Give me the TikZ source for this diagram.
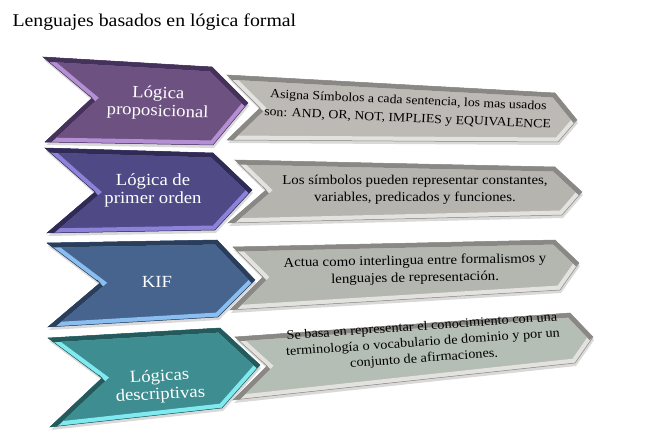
\documentclass[tikz,border=0pt]{standalone}
\usepackage{fontspec}
\setmainfont[FakeStretch=1.1]{Liberation Serif}
\usetikzlibrary{shadows}

\definecolor{purpA}{HTML}{6D5180}
\definecolor{purpL}{HTML}{B48FD4}
\definecolor{purpD}{HTML}{45325A}
\definecolor{indiA}{HTML}{4F4A86}
\definecolor{indiL}{HTML}{8C82DA}
\definecolor{indiD}{HTML}{2F2B55}
\definecolor{blueA}{HTML}{46648E}
\definecolor{blueL}{HTML}{8ABDF0}
\definecolor{blueD}{HTML}{2A3E5C}
\definecolor{tealA}{HTML}{3E8D91}
\definecolor{tealL}{HTML}{7FEAF0}
\definecolor{tealD}{HTML}{255A5D}
\definecolor{grayA}{HTML}{BDB9B5}
\definecolor{grayB}{HTML}{B6B4AF}
\definecolor{grayC}{HTML}{B3B7B0}
\definecolor{grayD}{HTML}{B5BEB5}
\definecolor{grayL}{HTML}{E4E2DE}
\definecolor{grayK}{HTML}{8A8884}

% one chevron from the six corners #1a..#1f
\newcommand{\chev}[4]{%
  \fill[#2, drop shadow={opacity=.3,shadow xshift=1pt,shadow yshift=-3pt}]
    (#1a) -- (#1b) -- (#1c) -- (#1d) -- (#1e) -- (#1f) -- cycle;
  \begin{scope}
    \clip (#1a) -- (#1b) -- (#1c) -- (#1d) -- (#1e) -- (#1f) -- cycle;
    \draw[#3, bevel] (#1a) -- (#1b) -- (#1c) -- (#1d) -- (#1e) -- (#1f) -- cycle;
    \draw[#4, bevel] (#1a) -- (#1b) -- (#1c);
    \draw[#4, bevel] (#1e) -- (#1f);
  \end{scope}
  \draw[#4, line width=.5pt, line join=miter]
    (#1a) -- (#1b) -- (#1c) -- (#1d) -- (#1e) -- (#1f) -- cycle;
}

\tikzset{
  bevel/.style={line width=9pt, line join=miter},
  title/.style={anchor=base west, font=\fontsize{18}{20}\selectfont},
  lefttext/.style={text=white, align=center, font=\fontsize{17}{18}\selectfont},
  righttext/.style={text=black, align=center, font=\fontsize{13.5}{17}\selectfont},
}

\begin{document}
\begin{tikzpicture}[x=1pt,y=-1pt]
\useasboundingbox (0,0) rectangle (662,435);

\node[title] (t0) at (9,27) {Lenguajes basados en lógica formal};

% corners of the grey chevrons
\coordinate (g1a) at (227,75);  \coordinate (g1b) at (555,93);  \coordinate (g1c) at (577,120);
\coordinate (g1d) at (558,142); \coordinate (g1e) at (227,140); \coordinate (g1f) at (260,108);
\coordinate (g2a) at (235,160); \coordinate (g2b) at (555,167); \coordinate (g2c) at (582,192);
\coordinate (g2d) at (562,215); \coordinate (g2e) at (228,223); \coordinate (g2f) at (266,190);
\coordinate (g3a) at (233,247); \coordinate (g3b) at (555,240); \coordinate (g3c) at (579,263);
\coordinate (g3d) at (560,290); \coordinate (g3e) at (230,310); \coordinate (g3f) at (263,277);
\coordinate (g4a) at (235,337); \coordinate (g4b) at (570,313); \coordinate (g4c) at (593,337);
\coordinate (g4d) at (575,363); \coordinate (g4e) at (233,400); \coordinate (g4f) at (267,366);

% corners of the coloured chevrons
\coordinate (c1a) at (43,57);   \coordinate (c1b) at (212,67);  \coordinate (c1c) at (248,103);
\coordinate (c1d) at (213,145); \coordinate (c1e) at (45,142);  \coordinate (c1f) at (92,98);
\coordinate (c2a) at (45,148);  \coordinate (c2b) at (213,153); \coordinate (c2c) at (252,190);
\coordinate (c2d) at (215,230); \coordinate (c2e) at (47,233);  \coordinate (c2f) at (95,192);
\coordinate (c3a) at (47,243);  \coordinate (c3b) at (217,240); \coordinate (c3c) at (255,280);
\coordinate (c3d) at (218,317); \coordinate (c3e) at (48,327);  \coordinate (c3f) at (100,283);
\coordinate (c4a) at (48,338);  \coordinate (c4b) at (220,328); \coordinate (c4c) at (260,365);
\coordinate (c4d) at (222,408); \coordinate (c4e) at (50,427);  \coordinate (c4f) at (102,378);

\chev{g1}{grayA}{grayL}{grayK}
\chev{g2}{grayB}{grayL}{grayK}
\chev{g3}{grayC}{grayL}{grayK}
\chev{g4}{grayD}{grayL}{grayK}
\chev{c1}{purpA}{purpL}{purpD}
\chev{c2}{indiA}{indiL}{indiD}
\chev{c3}{blueA}{blueL}{blueD}
\chev{c4}{tealA}{tealL}{tealD}

\node[lefttext, rotate=-2] (l1) at (158,103) {Lógica\\proposicional};
\node[lefttext] (l2) at (153,190) {Lógica de\\primer orden};
\node[lefttext] (l3) at (157,282) {KIF};
\node[lefttext, rotate=3] (l4) at (160,386) {Lógicas\\descriptivas};

\node[righttext, rotate=-2.5, font=\fontsize{12.5}{18}\selectfont] (r1) at (408,110) {Asigna Símbolos a cada sentencia, los mas usados\\son: AND, OR, NOT, IMPLIES y EQUIVALENCE};
\node[righttext] (r2) at (415,190) {Los símbolos pueden representar constantes,\\variables, predicados y funciones.};
\node[righttext, rotate=1] (r3) at (415,270) {Actua como interlingua entre formalismos y\\lenguajes de representación.};
\node[righttext, rotate=4, font=\fontsize{13}{16}\selectfont] (r4) at (423,343) {Se basa en representar el conocimiento con una\\terminología o vocabulario de dominio y por un\\conjunto de afirmaciones.};
\end{tikzpicture}
\end{document}
